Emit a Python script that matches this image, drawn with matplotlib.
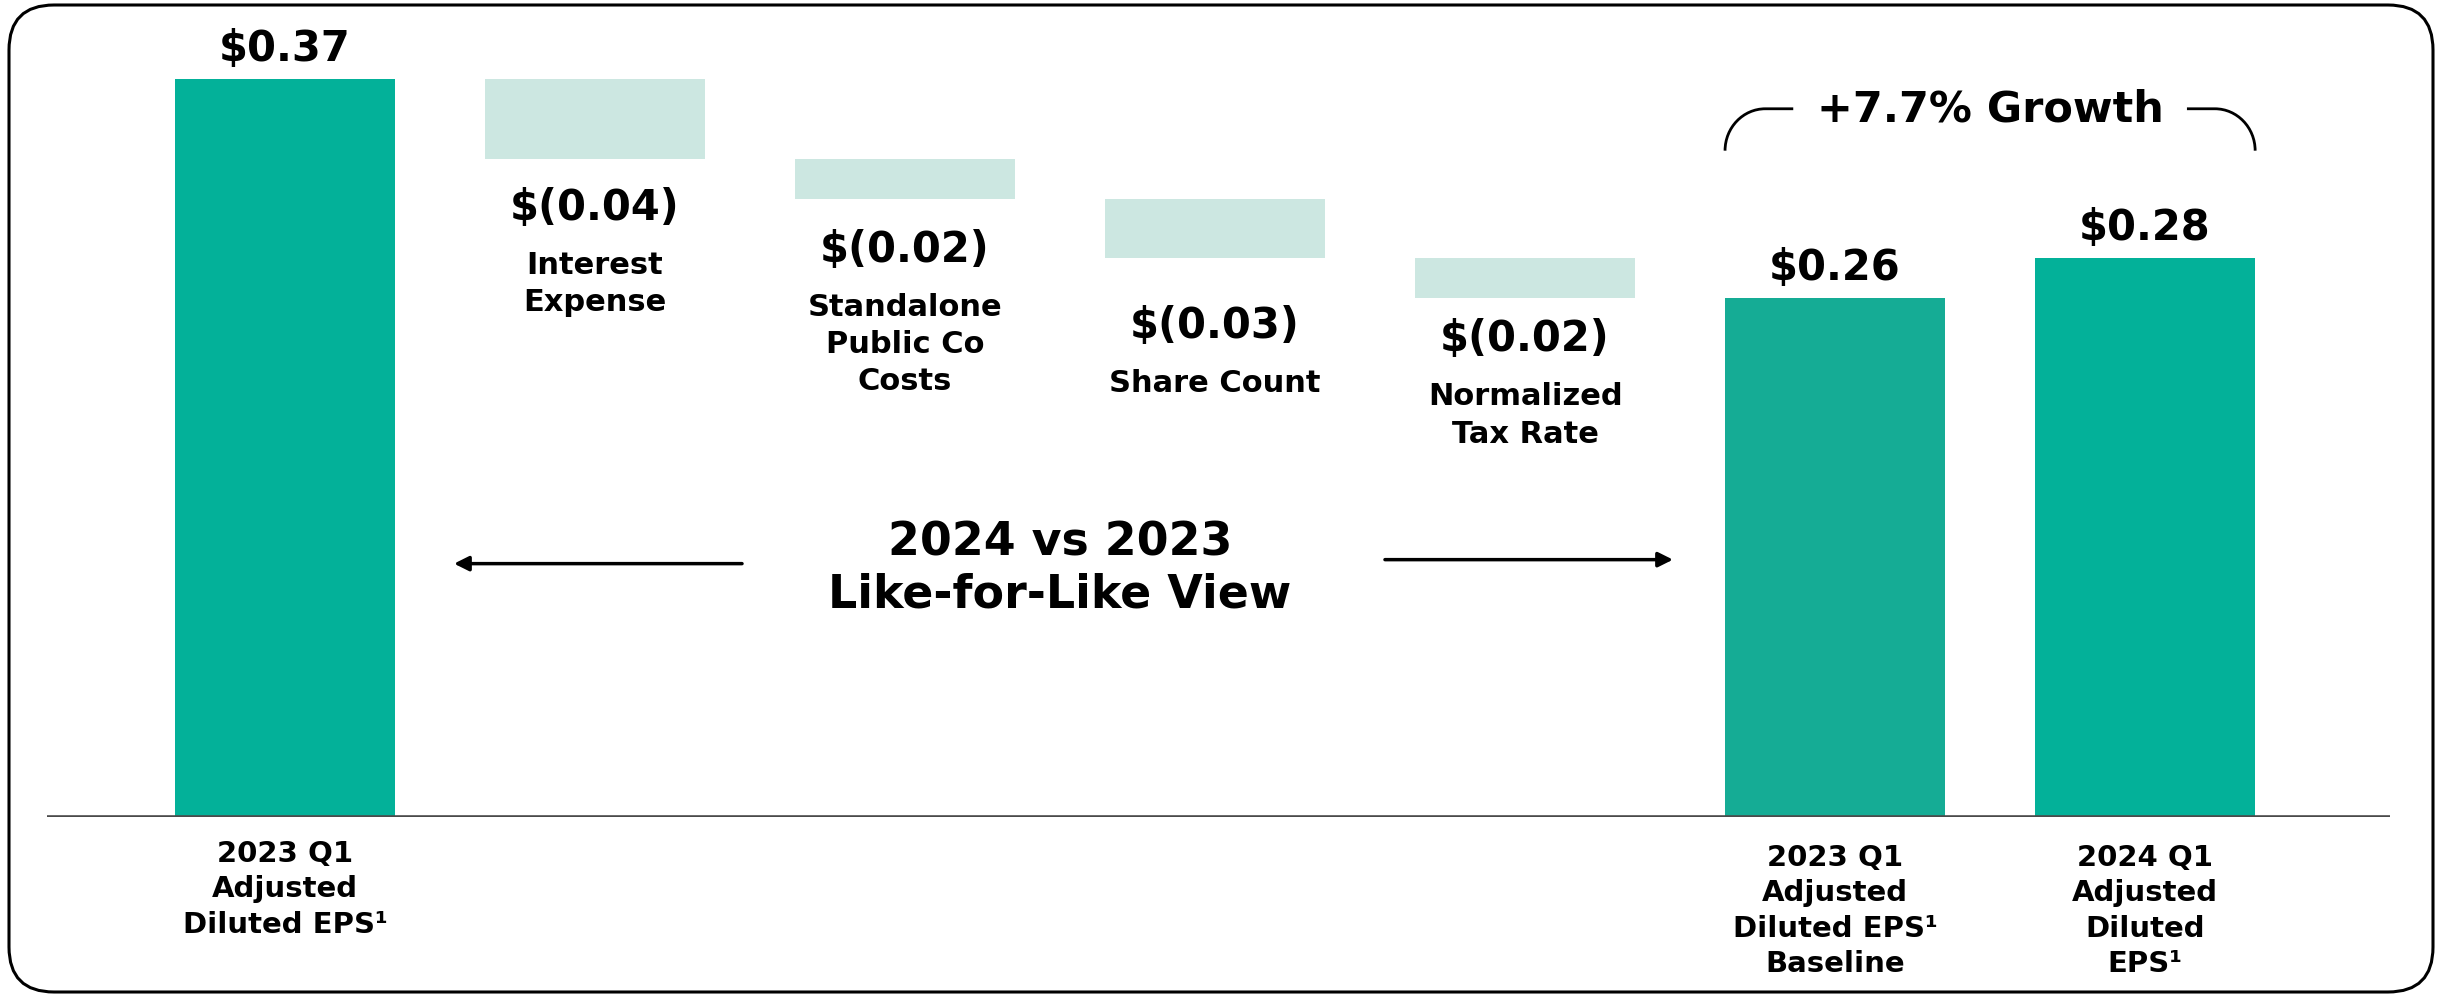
import matplotlib
matplotlib.use("Agg")
import matplotlib.pyplot as plt
from matplotlib.patches import FancyBboxPatch, PathPatch
from matplotlib.path import Path

# EPS bridge: 2023 Q1 reported -> like-for-like baseline -> 2024 Q1
START_LABEL = "2023 Q1\nAdjusted\nDiluted EPS¹"
START_VALUE = 0.37
STEP_LABELS = ["Interest\nExpense", "Standalone\nPublic Co\nCosts", "Share Count", "Normalized\nTax Rate"]
STEP_VALUES = [-0.04, -0.02, -0.03, -0.02]
END_LABELS = ["2023 Q1\nAdjusted\nDiluted EPS¹\nBaseline", "2024 Q1\nAdjusted\nDiluted\nEPS¹"]
END_VALUES = [0.26, 0.28]
GROWTH_TEXT = "+7.7% Growth"
CENTER_TEXT = "2024 vs 2023\nLike-for-Like View"

TEAL = "#03B199"
TEAL_BASE = "#15AC95"
MINT = "#CCE7E1"
BAR_W = 0.71
# pixel gap from the bottom of each step bar to its value label
STEP_GAP = [48, 50, 67, 40]

plt.rcParams["font.family"] = ["DejaVu Sans"]
plt.rcParams["font.weight"] = "bold"

W, H = 2440, 995
fig = plt.figure(figsize=(W / 100, H / 100), dpi=100)

# rounded frame, drawn in pixel units
frame = fig.add_axes([0, 0, 1, 1])
frame.set_xlim(0, W)
frame.set_ylim(0, H)
frame.axis("off")
frame.add_patch(FancyBboxPatch((9, 2), 2424, 987, boxstyle="round,pad=0,rounding_size=45",
                               fc="none", ec="black", lw=2.2))

ax = fig.add_axes([47 / W, (H - 818) / H, (2390 - 47) / W, 818 / H])
ax.set_xlim(-0.768, 6.79)
ax.set_ylim(0, 818 / 1995)
ax.axis("off")
ax.axhline(0, color="#4a4a4a", lw=2.6, zorder=3)

n_steps = len(STEP_VALUES)
xs_end = [n_steps + 1 + i for i in range(len(END_VALUES))]

# opening bar
ax.bar(0, START_VALUE, width=BAR_W, color=TEAL, zorder=2)
ax.annotate(f"${START_VALUE:.2f}", (0, START_VALUE), xytext=(0, 19), textcoords="offset pixels",
            ha="center", va="baseline", fontsize=30)
ax.annotate(START_LABEL, (0, 0), xytext=(0, -22), textcoords="offset pixels",
            ha="center", va="top", fontsize=21, linespacing=1.33)

# floating step bars
level = START_VALUE
for i, (lab, val) in enumerate(zip(STEP_LABELS, STEP_VALUES)):
    x = i + 1
    bottom = level + val
    ax.bar(x, -val, bottom=bottom, width=BAR_W, color=MINT, zorder=2)
    ax.annotate(f"$({abs(val):.2f})", (x, bottom), xytext=(0, -STEP_GAP[i]),
                textcoords="offset pixels", ha="center", va="center", fontsize=30)
    ax.annotate(lab, (x, bottom), xytext=(0, -STEP_GAP[i] - 43), textcoords="offset pixels",
                ha="center", va="top", fontsize=22, linespacing=1.36)
    level = bottom

# closing bars
for x, lab, val, col in zip(xs_end, END_LABELS, END_VALUES, [TEAL_BASE, TEAL]):
    ax.bar(x, val, width=BAR_W, color=col, zorder=2)
    ax.annotate(f"${val:.2f}", (x, val), xytext=(0, 19), textcoords="offset pixels",
                ha="center", va="baseline", fontsize=30)
    ax.annotate(lab, (x, 0), xytext=(0, -26), textcoords="offset pixels",
                ha="center", va="top", fontsize=21, linespacing=1.33)

# centre caption with arrows
cx = (0 + xs_end[0]) / 2
ax.text(cx, 0.125, CENTER_TEXT, ha="center", va="center", fontsize=33, linespacing=1.2)
arrow = dict(arrowstyle="-|>", lw=2.5, color="black", mutation_scale=22, shrinkA=0, shrinkB=0)
ax.annotate("", xy=(0.545, 0.127), xytext=(cx - 1.026, 0.127), arrowprops=arrow)
ax.annotate("", xy=(xs_end[0] - 0.523, 0.129), xytext=(cx + 1.048, 0.129), arrowprops=arrow)

# growth bracket over the two closing bars
xl = xs_end[0] - BAR_W / 2
xr = xs_end[1] + BAR_W / 2
xm = (xl + xr) / 2
yb, yh = 0.334, 0.355
rx = 0.13
k = 0.552
left = Path([(xl, yb), (xl, yb + k * (yh - yb)), (xl + (1 - k) * rx, yh), (xl + rx, yh), (xm - 0.635, yh)],
            [Path.MOVETO, Path.CURVE4, Path.CURVE4, Path.CURVE4, Path.LINETO])
right = Path([(xr, yb), (xr, yb + k * (yh - yb)), (xr - (1 - k) * rx, yh), (xr - rx, yh), (xm + 0.635, yh)],
             [Path.MOVETO, Path.CURVE4, Path.CURVE4, Path.CURVE4, Path.LINETO])
for p in (left, right):
    ax.add_patch(PathPatch(p, fc="none", ec="black", lw=2.0, clip_on=False))
ax.text(xm, yh, GROWTH_TEXT, ha="center", va="center", fontsize=31)

fig.savefig("out.png", dpi=100)
